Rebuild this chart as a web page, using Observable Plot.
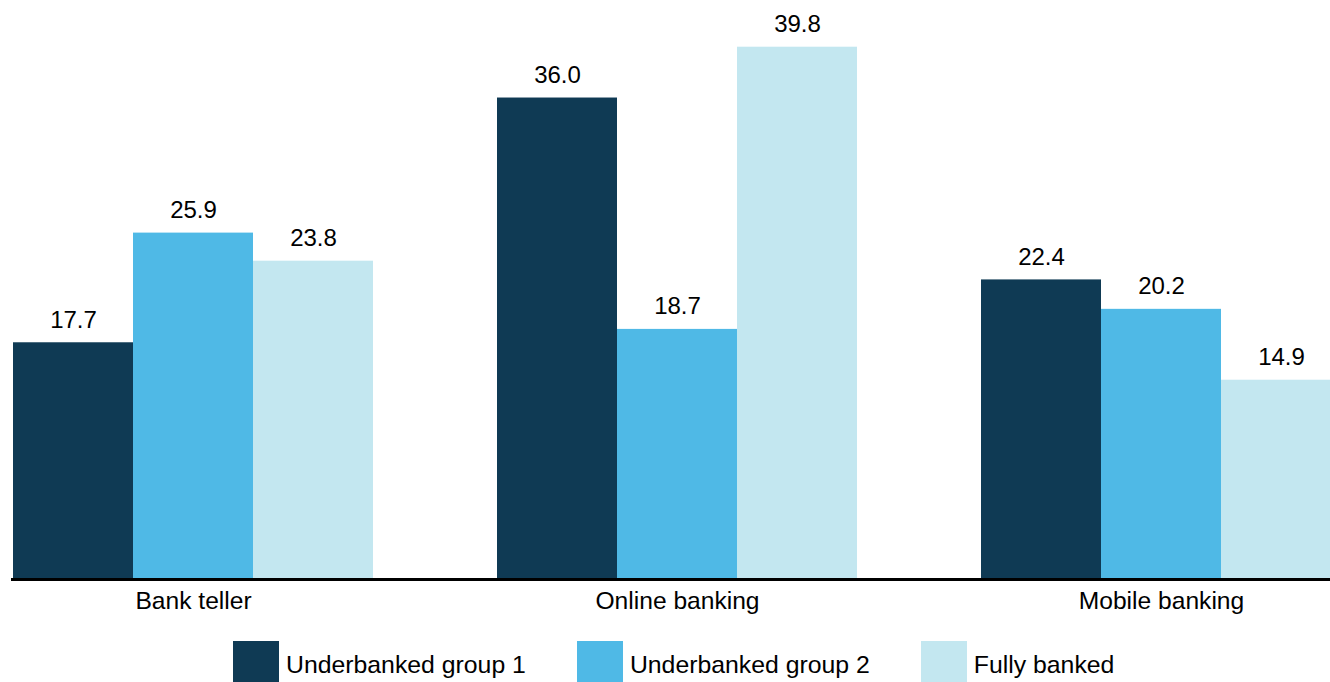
<!DOCTYPE html>
<html>
<head>
<meta charset="utf-8">
<script src="https://cdn.jsdelivr.net/npm/d3@7"></script>
<script src="https://cdn.jsdelivr.net/npm/@observablehq/plot@0.6"></script>
<style>
  html, body { margin: 0; padding: 0; background: #fff; }
  body { width: 1330px; height: 682px; overflow: hidden; font-family: "Liberation Sans", Arial, sans-serif; }
  #legend { display: flex; align-items: flex-start; margin-top: 11px; padding-left: 233px; font-size: 24.8px; color: #000; }
  .item { display: flex; align-items: flex-start; margin-right: 51px; }
  .sw { width: 46px; height: 46px; margin-right: 7px; }
  .lbl { line-height: 46px; padding-top: 1px; white-space: nowrap; }
</style>
</head>
<body>
<div id="chart"></div>
<div id="legend"></div>
<script>
const categories = ["Bank teller", "Online banking", "Mobile banking"];
const series = ["Underbanked group 1", "Underbanked group 2", "Fully banked"];
const group1 = [17.7, 36.0, 22.4];
const group2 = [25.9, 18.7, 20.2];
const fullyBanked = [23.8, 39.8, 14.9];
const colors = ["#0f3a54", "#4fb9e6", "#c3e7f0"];

const seriesValues = [group1, group2, fullyBanked];
const data = [];
categories.forEach((c, ci) => {
  series.forEach((s, si) => {
    data.push({category: c, series: s, value: seriesValues[si][ci]});
  });
});

const step = 484, band = 362, first = 12;
const gap = step - band;
const fxRange = [first - gap / 2, first - gap / 2 + step * categories.length];

const chart = Plot.plot({
  width: 1330,
  height: 630,
  marginTop: 46.7,
  marginBottom: 51,
  marginLeft: 19,
  marginRight: 0,
  style: {fontFamily: "'Liberation Sans', Arial, sans-serif", fontSize: "24.6px", color: "#000", background: "#fff"},
  fx: {domain: categories, range: fxRange, paddingInner: gap / step, paddingOuter: gap / 2 / step, align: 0.5,
       axis: "bottom", tickSize: 0, tickPadding: 12, label: null},
  x: {domain: series, padding: 0, axis: null},
  y: {domain: [0, d3.max(data, d => d.value)], axis: null},
  color: {domain: series, range: colors},
  marks: [
    Plot.barY(data, {fx: "category", x: "series", y: "value", fill: "series"}),
    Plot.text(data, {fx: "category", x: "series", y: "value", text: d => d.value.toFixed(1),
      lineAnchor: "bottom", dy: -15, fill: "#000", fontSize: 24}),
    Plot.frame({anchor: "bottom", facet: "super", stroke: "#000", strokeWidth: 3})
  ]
});
document.getElementById("chart").appendChild(chart);

const legend = document.getElementById("legend");
series.forEach((s, i) => {
  const item = document.createElement("div");
  item.className = "item";
  const sw = document.createElement("div");
  sw.className = "sw";
  sw.style.background = colors[i];
  const lbl = document.createElement("div");
  lbl.className = "lbl";
  lbl.textContent = s;
  item.appendChild(sw);
  item.appendChild(lbl);
  legend.appendChild(item);
});
</script>
</body>
</html>
